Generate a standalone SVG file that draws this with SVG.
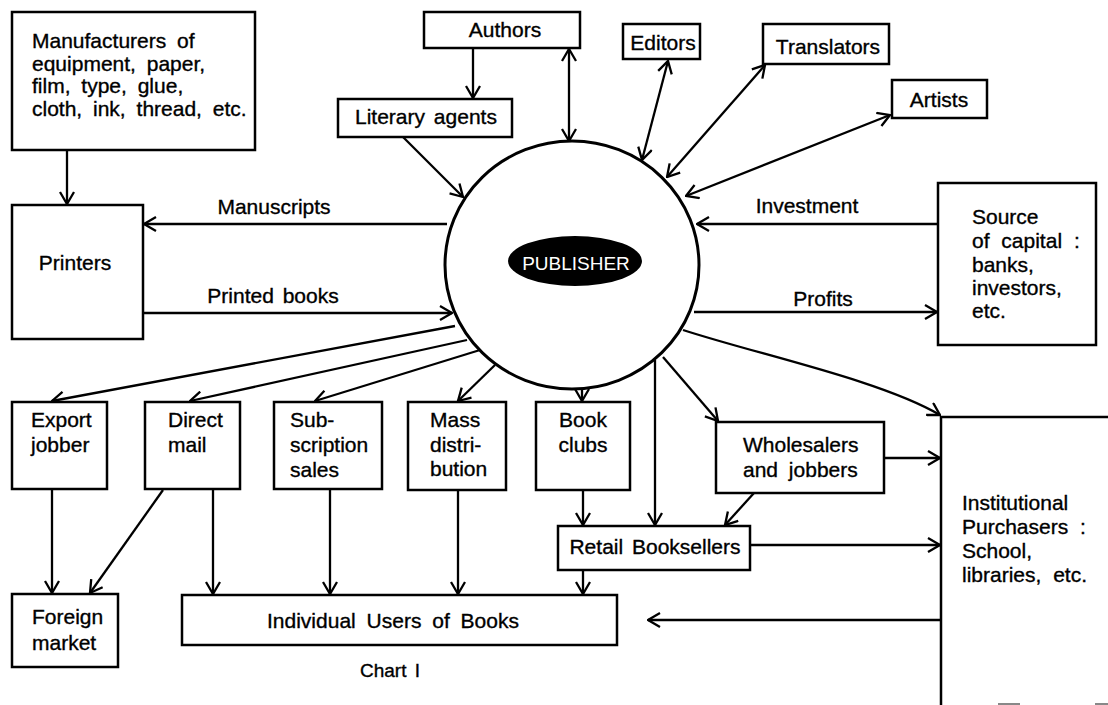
<svg xmlns="http://www.w3.org/2000/svg" width="1108" height="705" viewBox="0 0 1108 705">
<style>
.bx{fill:#fff;stroke:#000;stroke-width:2.5}
.t{font-family:"Liberation Sans",Arial,sans-serif;font-size:21px;fill:#000;stroke:#000;stroke-width:0.35;word-spacing:3px}
.c{text-anchor:middle}
.ln{stroke:#000;stroke-width:2.3;fill:none;marker-end:url(#a)}
.bi{marker-start:url(#a)}
</style>
<defs>
<marker id="a" viewBox="0 0 14 16" refX="13" refY="8" markerWidth="14" markerHeight="16" markerUnits="userSpaceOnUse" orient="auto-start-reverse">
<path d="M1,1 L13,8 L1,15" fill="none" stroke="#000" stroke-width="2.3"/>
</marker>
</defs>
<rect width="1108" height="705" fill="#fff"/>

<g id="connectors">
<path class="ln" d="M67,150 V204"/>
<path class="ln" d="M447,224 H144"/>
<path class="ln" d="M143,313 H452"/>
<path class="ln" d="M473,48 V98"/>
<path class="ln" d="M403,137 L463,197"/>
<path class="ln bi" d="M569,49 V141"/>
<path class="ln bi" d="M668,61 L642,160"/>
<path class="ln bi" d="M765,65 L667,177"/>
<path class="ln bi" d="M890,115 L686,196"/>
<path class="ln" d="M938,224 H697"/>
<path class="ln" d="M694,312 H937"/>
<path class="ln" d="M683,330 C760,355 880,380 940,415"/>
<path class="ln" d="M455,326 L52,401"/>
<path class="ln" d="M467,340 L190,401"/>
<path class="ln" d="M480,350 L315,401"/>
<path class="ln" d="M495,365 L458,401"/>
<path class="ln" d="M582,388 V401"/>
<path class="ln" d="M655,360 V525"/>
<path class="ln" d="M663,357 L718,421"/>
<path class="ln" d="M884,458 H940"/>
<path class="ln" d="M754,493 L725,525"/>
<path class="ln" d="M583,490 V525"/>
<path class="ln" d="M750,545 H940"/>
<path class="ln" d="M583,570 V594"/>
<path class="ln" d="M941,620 H648"/>
<path class="ln" d="M52,489 V593"/>
<path class="ln" d="M163,490 L90,593"/>
<path class="ln" d="M213,489 V594"/>
<path class="ln" d="M330,489 V594"/>
<path class="ln" d="M458,490 V594"/>
</g>

<g id="publisher">
<ellipse cx="572" cy="265" rx="127" ry="124" fill="#fff" stroke="#000" stroke-width="3"/>
<ellipse cx="575" cy="261" rx="67" ry="25" fill="#000"/>
<text class="t c" x="576" y="270" style="fill:#fff;stroke:none;font-size:19px">PUBLISHER</text>
</g>

<g id="manufacturers">
<rect class="bx" x="12" y="12" width="243" height="138"/>
<text class="t" x="32" y="48" style="word-spacing:5px">Manufacturers of</text>
<text class="t" x="32" y="70.5" style="word-spacing:5px">equipment, paper,</text>
<text class="t" x="32" y="93" style="word-spacing:5px">film, type, glue,</text>
<text class="t" x="32" y="115.5" style="word-spacing:5px">cloth, ink, thread, etc.</text>
</g>

<g id="printers">
<rect class="bx" x="12" y="205" width="131" height="134"/>
<text class="t c" x="75" y="270">Printers</text>
</g>
<g id="label-manuscripts"><text class="t c" x="274" y="214">Manuscripts</text></g>
<g id="label-printed"><text class="t c" x="273" y="303">Printed books</text></g>

<g id="authors">
<rect class="bx" x="424" y="12" width="156" height="36"/>
<text class="t c" x="505" y="37">Authors</text>
</g>
<g id="literary">
<rect class="bx" x="338" y="99" width="174" height="38"/>
<text class="t" x="355" y="124">Literary agents</text>
</g>
<g id="editors">
<rect class="bx" x="623" y="24" width="77" height="35"/>
<text class="t c" x="663" y="50">Editors</text>
</g>
<g id="translators">
<rect class="bx" x="763" y="24" width="126" height="40"/>
<text class="t c" x="828" y="54">Translators</text>
</g>
<g id="artists">
<rect class="bx" x="892" y="80" width="95" height="38"/>
<text class="t c" x="939" y="107">Artists</text>
</g>

<g id="label-investment"><text class="t c" x="807" y="213">Investment</text></g>
<g id="label-profits"><text class="t c" x="823" y="306">Profits</text></g>

<g id="capital">
<rect class="bx" x="938" y="183" width="158" height="162"/>
<text class="t" x="972" y="224">Source</text>
<text class="t" x="972" y="248" style="word-spacing:6px">of capital :</text>
<text class="t" x="972" y="272">banks,</text>
<text class="t" x="972" y="295">investors,</text>
<text class="t" x="972" y="318">etc.</text>
</g>

<g id="export">
<rect class="bx" x="12" y="402" width="95" height="87"/>
<text class="t" x="31" y="427">Export</text>
<text class="t" x="31" y="452">jobber</text>
</g>
<g id="direct">
<rect class="bx" x="145" y="402" width="95" height="87"/>
<text class="t" x="168" y="427">Direct</text>
<text class="t" x="168" y="452">mail</text>
</g>
<g id="subscription">
<rect class="bx" x="274" y="402" width="108" height="87"/>
<text class="t" x="290" y="427">Sub-</text>
<text class="t" x="290" y="452">scription</text>
<text class="t" x="290" y="477">sales</text>
</g>
<g id="mass">
<rect class="bx" x="408" y="402" width="98" height="88"/>
<text class="t" x="430" y="427">Mass</text>
<text class="t" x="430" y="452">distri-</text>
<text class="t" x="430" y="476">bution</text>
</g>
<g id="bookclubs">
<rect class="bx" x="536" y="402" width="94" height="88"/>
<text class="t c" x="583" y="427">Book</text>
<text class="t c" x="583" y="452">clubs</text>
</g>
<g id="wholesalers">
<rect class="bx" x="716" y="422" width="168" height="71"/>
<text class="t" x="743" y="452">Wholesalers</text>
<text class="t" x="743" y="477" style="word-spacing:5px">and jobbers</text>
</g>
<g id="retail">
<rect class="bx" x="558" y="526" width="192" height="44"/>
<text class="t c" x="655" y="554">Retail Booksellers</text>
</g>
<g id="foreign">
<rect class="bx" x="12" y="594" width="106" height="73"/>
<text class="t" x="32" y="624">Foreign</text>
<text class="t" x="32" y="650">market</text>
</g>
<g id="users">
<rect class="bx" x="182" y="595" width="435" height="50"/>
<text class="t c" x="393" y="628" style="word-spacing:5px">Individual Users of Books</text>
</g>
<g id="institutional">
<path d="M1108,417 H941 V705" fill="none" stroke="#000" stroke-width="2.5"/>
<text class="t" x="962" y="510">Institutional</text>
<text class="t" x="962" y="534" style="word-spacing:6px">Purchasers :</text>
<text class="t" x="962" y="558">School,</text>
<text class="t" x="962" y="582" style="word-spacing:6px">libraries, etc.</text>
</g>
<g id="caption"><text class="t c" x="390" y="677" style="font-size:19px">Chart I</text></g>
<g id="marks">
<path d="M998,704 H1020 M1095,704 H1108" stroke="#888" stroke-width="2"/>
</g>
</svg>
